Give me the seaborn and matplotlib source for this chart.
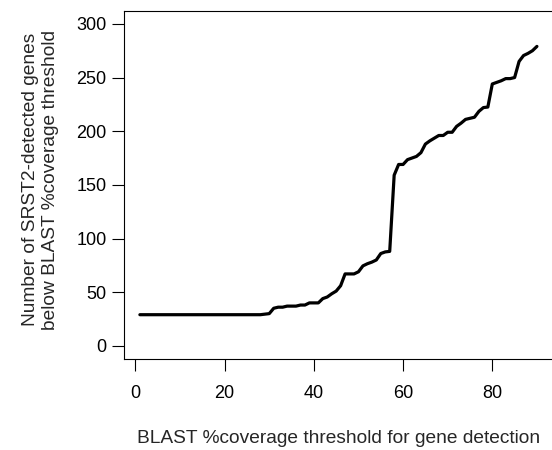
import numpy as np
import pandas as pd
import matplotlib
matplotlib.use("Agg")
import matplotlib.pyplot as plt
import seaborn as sns

# coverage threshold (%) and number of genes below it
threshold = list(range(1, 91))
genes = [29] * 27 + [29, 29.5, 30,
         35, 36, 36, 37, 37, 37, 38, 38, 40, 40,
         40, 44, 45.5, 48.5, 51, 56, 67, 67, 67, 69,
         74.5, 76.5, 78, 80, 86, 87.5, 88, 159, 169, 169,
         173.5, 175, 176.5, 180, 188, 191, 193.5, 196, 196, 199,
         199, 204.5, 207.5, 211, 212, 213, 218.5, 222, 222.5, 244,
         245.5, 247, 249, 249, 250, 265, 270.5, 272.5, 275, 279]

x_ticks = [0, 20, 40, 60, 80]
y_ticks = [0, 50, 100, 150, 200, 250, 300]

df = pd.DataFrame({"threshold": threshold, "genes": genes})

sns.set_style("ticks")
plt.rcParams["font.family"] = ["Liberation Sans", "DejaVu Sans"]

fig = plt.figure(figsize=(5.52, 4.5), dpi=100)
ax = fig.add_axes([124 / 552, 91.3 / 450, 428.8 / 552, 347.7 / 450])

sns.lineplot(data=df, x="threshold", y="genes", color="black",
             linewidth=2.3, ax=ax)

ax.set_xlim(-2.56, 93.56)
ax.set_ylim(-12, 312)
ax.set_xticks(x_ticks)
ax.set_yticks(y_ticks)
ax.tick_params(direction="out", length=8.6, width=0.8, labelsize=13,
               color="black", labelcolor="black")
ax.tick_params(axis="x", pad=10)
ax.tick_params(axis="y", pad=4)
for s in ["left", "top", "bottom"]:
    ax.spines[s].set_linewidth(0.8)
    ax.spines[s].set_color("black")
ax.spines["right"].set_visible(False)

ax.set_xlabel("BLAST %coverage threshold for gene detection", fontsize=13.8)
ax.set_ylabel("Number of SRST2-detected genes\nbelow BLAST %coverage threshold",
              fontsize=13.8, linespacing=1.2)
ax.xaxis.set_label_coords(0.5, -0.205)
ax.yaxis.set_label_coords(-0.152, 0.515)

fig.savefig("out.png", dpi=100)
